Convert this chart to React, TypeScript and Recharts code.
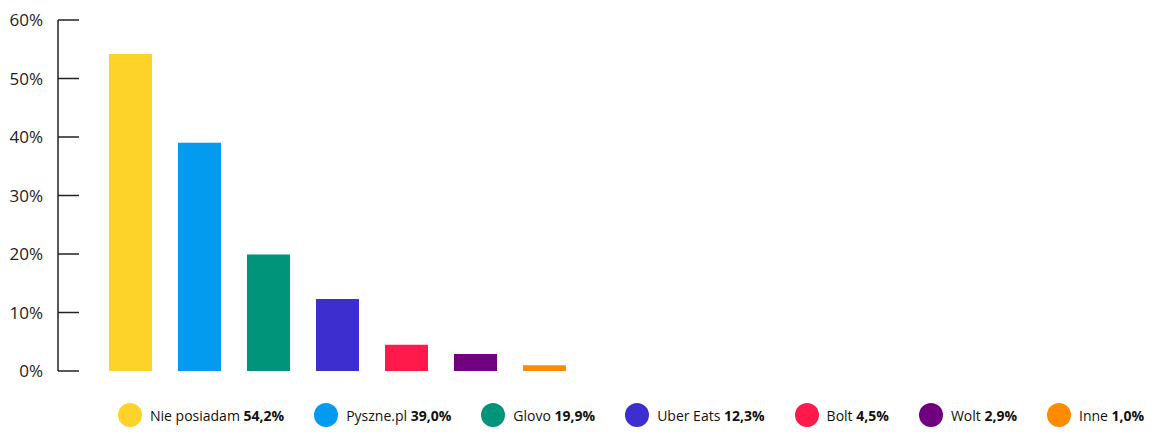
import { BarChart, Bar, XAxis, YAxis, Cell, Legend } from 'recharts';

const categories = ['Nie posiadam', 'Pyszne.pl', 'Glovo', 'Uber Eats', 'Bolt', 'Wolt', 'Inne'];
const shares = [54.2, 39.0, 19.9, 12.3, 4.5, 2.9, 1.0];
const shareLabels = ['54,2%', '39,0%', '19,9%', '12,3%', '4,5%', '2,9%', '1,0%'];
const yTicks = [0, 10, 20, 30, 40, 50, 60];

const COLORS = ['#FDD32A', '#039BEF', '#00947A', '#3D2ECF', '#FF1A4B', '#710080', '#FF8C00'];
const FONT = "'Open Sans', sans-serif";

const data = categories.map((name, i) => ({ name, value: shares[i], label: shareLabels[i] }));

function YTick(props: any) {
  const { x, y, payload } = props;
  return (
    <g>
      <line x1={x + 15} x2={x + 36} y1={y} y2={y} stroke="#222" strokeWidth={1.5} />
      <text x={x} y={y} dy={6} textAnchor="end" fontSize={17} fill="#222" fontFamily={FONT}>
        {payload.value}%
      </text>
    </g>
  );
}

function LegendContent() {
  return (
    <div
      style={{
        height: 56,
        boxSizing: 'border-box',
        paddingTop: 32,
        paddingLeft: 110,
        display: 'flex',
        gap: 30,
        fontFamily: FONT,
        fontSize: 14,
        color: '#111',
      }}
    >
      {data.map((d, i) => (
        <div key={d.name} style={{ display: 'flex', alignItems: 'center', height: 24 }}>
          <span
            style={{
              width: 24,
              height: 24,
              borderRadius: 12,
              background: COLORS[i],
              marginRight: 8,
              display: 'inline-block',
            }}
          />
          <span>
            {d.name} <b>{d.label}</b>
          </span>
        </div>
      ))}
    </div>
  );
}

export default function App() {
  return (
    <BarChart
      width={1147}
      height={426}
      data={data}
      margin={{ top: 12, right: 576, bottom: 7, left: 0 }}
    >
      <XAxis dataKey="name" hide padding={{ left: 38, right: 0 }} />
      <YAxis
        width={50}
        domain={[0, 60]}
        ticks={yTicks}
        interval={0}
        tickSize={0}
        tickMargin={15}
        tickLine={false}
        axisLine={{ stroke: '#222', strokeWidth: 1.5 }}
        tick={<YTick />}
      />
      <Bar dataKey="value" barSize={43} isAnimationActive={false}>
        {data.map((d, i) => (
          <Cell key={d.name} fill={COLORS[i]} />
        ))}
      </Bar>
      <Legend
        verticalAlign="bottom"
        content={<LegendContent />}
        wrapperStyle={{ left: 0, width: 1147 }}
      />
    </BarChart>
  );
}
